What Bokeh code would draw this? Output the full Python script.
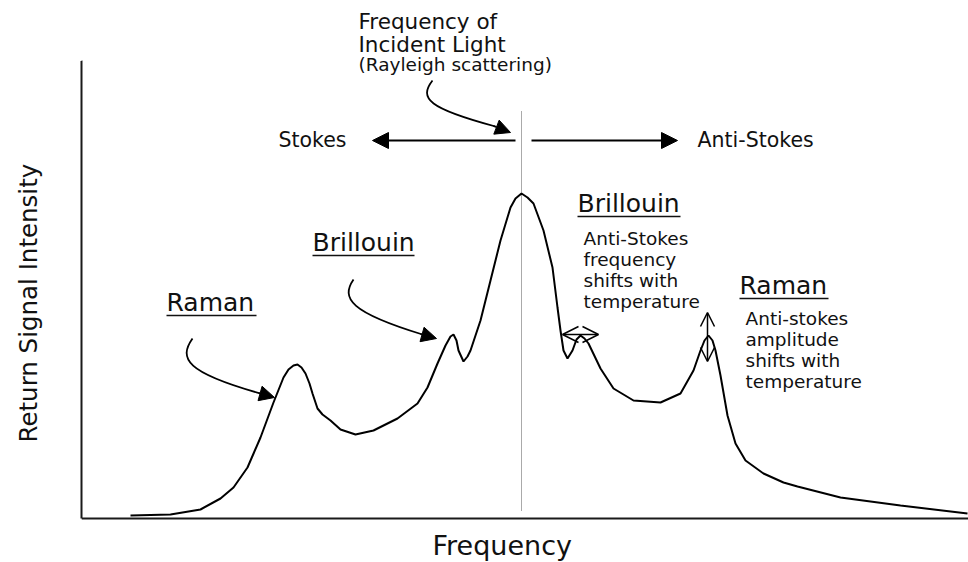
from bokeh.plotting import figure
from bokeh.models import Range1d, FixedTicker, Arrow, NormalHead, OpenHead, Title
from bokeh.core.properties import value
from bokeh.embed import file_html
from bokeh.resources import INLINE

FONT = "DejaVu Sans"

# ---- spectrum (frequency / intensity in arbitrary units)
freq = [130, 170, 200, 220, 233, 247, 260, 273, 283, 288, 293, 297, 301, 305, 309, 312, 317, 322,
        330, 340, 355, 373, 397, 417, 427, 437, 445, 450, 453, 456, 458, 463, 467, 470, 480, 490,
        500, 510, 515, 521, 527, 533, 543, 552, 557, 560, 563, 567, 572, 576, 580, 584, 588, 600,
        613, 633, 660, 680, 693, 700, 704, 708, 712, 715, 720, 727, 735, 745, 763, 783, 797, 840,
        900, 967]
intensity = [3, 4, 9, 20, 31, 51, 81, 116, 141, 149, 153, 154, 151, 145, 135, 125, 110, 104,
             98, 89, 84, 88, 100, 115, 131, 155, 173, 182, 184, 178, 168, 157, 162, 168, 198, 238,
             278, 311, 320, 325, 321, 315, 288, 251, 211, 188, 168, 160, 168, 179, 183, 180, 175, 150,
             130, 118, 116, 125, 148, 168, 178, 183, 178, 168, 143, 103, 75, 58, 45, 36, 32, 21,
             13, 5]

x_label = "Frequency"
y_label = "Return Signal Intensity"

# ---- annotation texts
top_texts = ["Frequency of", "Incident Light"]
top_x = [358, 358]
top_y = [497.5, 474.5]

head_texts = ["Stokes", "Anti-Stokes"]
head_x = [278, 697]
head_y = [379, 379]

sub_texts = ["(Rayleigh scattering)"]
sub_x = [358]
sub_y = [454.5]

title_texts = ["Raman", "Brillouin", "Brillouin", "Raman"]
title_x = [166, 312, 577, 739]
title_y = [216, 276, 315, 233]
title_w = [90, 102, 103, 89]
underline_y = [203, 263, 302, 220]

desc_texts = ["Anti-Stokes", "frequency", "shifts with", "temperature",
              "Anti-stokes", "amplitude", "shifts with", "temperature"]
desc_x = [583, 583, 583, 583, 745, 745, 745, 745]
desc_y = [280.5, 259.5, 238.5, 217.5, 200.5, 179.5, 158.5, 137.5]

# curved pointer arrows (bezier bodies)
bz_x0 = [192, 353, 432]
bz_y0 = [180, 239, 438]
bz_cx0 = [178, 340, 418]
bz_cy0 = [160, 220, 420]
bz_cx1 = [185, 350, 428]
bz_cy1 = [146, 206, 410]
bz_x1 = [260, 422, 495]
bz_y1 = [125, 184, 392]
tip_x = [274, 436, 510]
tip_y = [121, 180, 386]

rayleigh_x = 521
y_top = 458

p = figure(width=968, height=562, x_range=Range1d(81, 968), y_range=Range1d(-44, 518),
           min_border_left=81, min_border_right=0, min_border_top=0, min_border_bottom=0,
           output_backend="svg", toolbar_location=None)
p.outline_line_color = None
p.grid.visible = False
p.background_fill_color = "white"
p.border_fill_color = "white"

for ax in (p.xaxis[0], p.yaxis[0]):
    ax.minor_tick_line_color = None
    ax.major_label_text_font_size = "0px"
    ax.major_label_standoff = 0
    ax.axis_line_color = "#1a1a1a"
    ax.axis_line_width = 2
p.xaxis.ticker = FixedTicker(ticks=[])
p.xaxis.major_tick_line_color = None
p.xaxis.major_tick_out = 0
p.xaxis.fixed_location = 0

# y axis: a single blank (white) tick at the top bound only reserves room for the title
p.yaxis.bounds = (0, y_top)
p.yaxis.ticker = FixedTicker(ticks=[y_top])
p.yaxis.major_label_overrides = {y_top: ""}
p.yaxis.major_tick_line_color = "white"
p.yaxis.major_tick_in = 0
p.yaxis.major_tick_out = 36

# axis titles
p.add_layout(Title(text=y_label, align="left", offset=120, standoff=5,
                   text_font=FONT, text_font_size="24.5px", text_font_style="normal",
                   text_color="#111111"), "left")
p.text([432], [-27], text=[x_label], text_font=value(FONT), text_font_size="27px",
       text_baseline="alphabetic", text_align="left", text_color="#111111")

# Rayleigh line
p.segment(x0=[rayleigh_x], y0=[8], x1=[rayleigh_x], y1=[408], line_color="#555555",
          line_width=1, line_dash="1 1")

# spectrum
p.line(freq, intensity, line_color="black", line_width=2)

# texts
p.text(top_x, top_y, text=top_texts, text_font=value(FONT), text_font_size="21.5px",
       text_baseline="alphabetic", text_align="left", text_color="#111111")
p.text(head_x, head_y, text=head_texts, text_font=value(FONT), text_font_size="20.5px",
       text_baseline="alphabetic", text_align="left", text_color="#111111")
p.text(sub_x, sub_y, text=sub_texts, text_font=value(FONT), text_font_size="18.5px",
       text_baseline="alphabetic", text_align="left", text_color="#111111")
p.text(title_x, title_y, text=title_texts, text_font=value(FONT), text_font_size="25px",
       text_baseline="alphabetic", text_align="left", text_color="#111111")
p.text(desc_x, desc_y, text=desc_texts, text_font=value(FONT), text_font_size="18.5px",
       text_baseline="alphabetic", text_align="left", text_color="#111111")

# underlines
p.segment(x0=title_x, y0=underline_y, x1=[a + b for a, b in zip(title_x, title_w)],
          y1=underline_y, line_color="#111111", line_width=1.5)

# curved arrows
p.bezier(x0=bz_x0, y0=bz_y0, x1=bz_x1, y1=bz_y1, cx0=bz_cx0, cy0=bz_cy0, cx1=bz_cx1, cy1=bz_cy1,
         line_color="black", line_width=1.8)
for i in range(3):
    p.add_layout(Arrow(x_start=bz_x1[i] - 2, y_start=bz_y1[i] + 0.5, x_end=tip_x[i], y_end=tip_y[i],
                       line_width=1.8, line_color="black",
                       end=NormalHead(size=15, fill_color="black", line_color="black", line_width=1)))

# Stokes / Anti-Stokes arrows
p.add_layout(Arrow(x_start=515, y_start=378, x_end=372, y_end=378, line_width=1.8, line_color="black",
                   end=NormalHead(size=16, fill_color="black", line_color="black", line_width=1)))
p.add_layout(Arrow(x_start=531, y_start=378, x_end=677, y_end=378, line_width=1.8, line_color="black",
                   end=NormalHead(size=16, fill_color="black", line_color="black", line_width=1)))

# temperature shift markers
p.add_layout(Arrow(x_start=562, y_start=184, x_end=598, y_end=184, line_width=1.5, line_color="black",
                   start=OpenHead(size=16, line_color="black", line_width=1.5),
                   end=OpenHead(size=16, line_color="black", line_width=1.5)))
p.add_layout(Arrow(x_start=707, y_start=157, x_end=707, y_end=206, line_width=1.5, line_color="black",
                   start=OpenHead(size=14, line_color="black", line_width=1.5),
                   end=OpenHead(size=14, line_color="black", line_width=1.5)))

open("out.html", "w").write(file_html(p, INLINE))
